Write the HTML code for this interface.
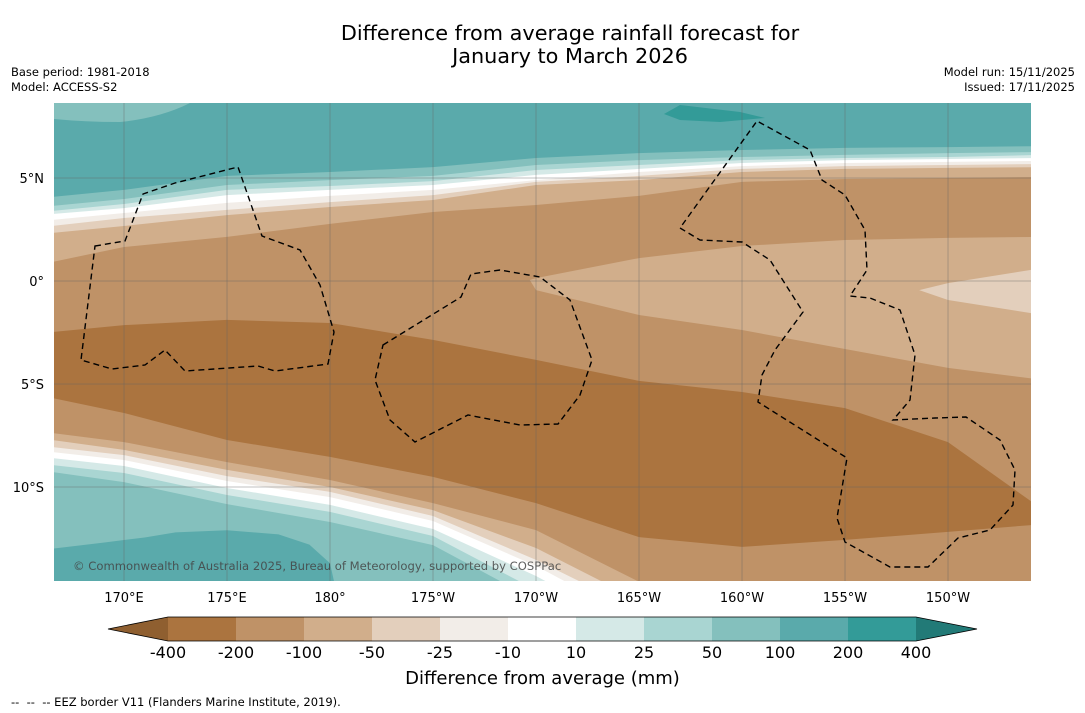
<!DOCTYPE html>
<html><head><meta charset="utf-8">
<style>
html,body{margin:0;padding:0;background:#fff;}
body{width:1085px;height:713px;position:relative;overflow:hidden;font-family:"DejaVu Sans","Liberation Sans",sans-serif;}
.t{position:absolute;white-space:nowrap;color:#000;}
</style></head>
<body>
<div class="t" style="left:0;width:1140px;top:22px;text-align:center;font-size:20.8px;line-height:23px;">Difference from average rainfall forecast for<br>January to March 2026</div>
<div class="t" style="left:11px;top:65px;font-size:11.5px;line-height:15px;">Base period: 1981-2018<br>Model: ACCESS-S2</div>
<div class="t" style="right:10px;top:65px;font-size:11.5px;line-height:15px;text-align:right;">Model run: 15/11/2025<br>Issued: 17/11/2025</div>
<svg id="chart" width="1085" height="713" style="position:absolute;left:0;top:0;font-family:'DejaVu Sans','Liberation Sans',sans-serif;" xmlns="http://www.w3.org/2000/svg"></svg>
<div class="t" style="left:0;width:1085px;top:668px;text-align:center;font-size:18px;">Difference from average (mm)</div>
<div class="t" style="left:11px;top:695px;font-size:11.5px;">--&nbsp; --&nbsp; -- EEZ border V11 (Flanders Marine Institute, 2019).</div>
<script>
const lons = [166.5,170,175,180,185,190,195,200,205,210,214.6];
const n100 = [4.08,4.42,5.10,5.29,5.53,5.97,6.21,6.36,6.46,6.50,6.55];
const n50  = [3.64,3.98,4.66,4.90,5.10,5.63,5.87,6.02,6.12,6.21,6.26];
const n25  = [3.40,3.74,4.42,4.61,4.85,5.39,5.63,5.87,5.97,6.02,6.12];
const n10  = [3.25,3.54,4.17,4.42,4.66,5.15,5.44,5.73,5.87,5.92,5.97];
const nm10 = [2.96,3.30,3.79,4.13,4.42,4.90,5.29,5.58,5.73,5.78,5.83];
const nm25 = [2.67,3.06,3.45,3.83,4.17,4.81,5.10,5.44,5.58,5.63,5.68];
const nm50 = [2.33,2.67,3.20,3.59,3.93,4.66,4.90,5.29,5.44,5.49,5.53];
const nm100= [0.92,1.65,2.14,2.77,3.35,3.69,4.13,4.81,4.95,5.00,5.05];
const nm200= [-2.48,-2.14,-1.89,-2.04,-2.86,-3.83,-4.85,-5.39,-6.17,-7.82,-11.1];
const sm200= [-5.68,-6.41,-7.72,-8.54,-9.51,-10.78,-12.43,-12.91,-12.57,-12.18,-11.8];
const sm100= [-7.38,-7.82,-8.79,-9.66,-10.78,-12.09,-14.6,-16,-16,-16,-16];
const sm50 = [-7.72,-8.20,-9.17,-10.0,-11.12,-12.96,-15.5,-17,-17,-17,-17];
const sm25 = [-8.06,-8.45,-9.47,-10.24,-11.41,-13.54,-16,-17,-17,-17,-17];
const sm10 = [-8.30,-8.69,-9.71,-10.49,-11.65,-13.83,-16.5,-18,-18,-18,-18];
const s10  = [-8.59,-8.98,-10.05,-10.87,-12.04,-14.32,-17,-18,-18,-18,-18];
const s25  = [-8.93,-9.32,-10.39,-11.21,-12.38,-15,-17,-18,-18,-18,-18];
const s50  = [-9.27,-9.76,-10.83,-11.70,-12.82,-15.5,-17,-18,-18,-18,-18];
const s100 = [-18,-18,-18,-18,-18,-18,-18,-18,-18,-18,-18];
const eLons = [189.7,190,195,200,205,210,214.6];
const eN50 = [0.05,0.14,1.11,1.70,1.99,2.09,2.14];
const eS50 = [0.05,-0.44,-1.65,-2.38,-3.30,-4.22,-4.80];
const iLons = [208.6,210,214.6];
const iN25 = [-0.44,-0.10,0.63];
const iS25 = [-0.44,-0.92,-1.65];
const swLons = [166.5,169,171,172.5,175,177.5,179,180,180.2];
const swLats = [-13.0,-12.7,-12.45,-12.2,-12.1,-12.3,-12.8,-13.7,-14.6];
const bandLevels = ["-400","-200","-100","-50","-25","-10","10","25","50","100","200","400"];
const bandColors = ["#ab743f","#bf9267","#d1ae8b","#e3cfbc","#f2ede8","#ffffff","#d5e9e7","#a9d5d2","#84c0bd","#5aaaab","#339b98"];
const lonTicks = [170,175,180,185,190,195,200,205,210];
const lonLabels = ["170°E","175°E","180°","175°W","170°W","165°W","160°W","155°W","150°W"];
const latTicks = [5,0,-5,-10];
const latLabels = ["5°N","0°","5°S","10°S"];

const NS="http://www.w3.org/2000/svg";
const svg=document.getElementById('chart');
const X0=54,X1=1031,Y0=103,Y1=581;
const xS=lon=>124+(lon-170)*20.6;
const yS=lat=>281-lat*20.6;
function mk(t,a,p){const e=document.createElementNS(NS,t);for(const k in a)e.setAttribute(k,a[k]);(p||svg).appendChild(e);return e;}
const defs=mk('defs',{});
const cp=mk('clipPath',{id:'mapclip'},defs);
mk('rect',{x:X0,y:Y0,width:X1-X0,height:Y1-Y0},cp);
const g=mk('g',{'clip-path':'url(#mapclip)'});


const bg=mk('rect',{x:X0,y:Y0,width:X1-X0,height:Y1-Y0,fill:bandColors[9]},g);


function band(ls,north,south,color,name){
  let pts=[];
  for(let i=0;i<ls.length;i++)pts.push(xS(ls[i]).toFixed(1)+','+yS(north[i]).toFixed(1));
  for(let i=ls.length-1;i>=0;i--)pts.push(xS(ls[i]).toFixed(1)+','+yS(south[i]).toFixed(1));
  const p=mk('polygon',{points:pts.join(' '),fill:color},g);
  
  
}
band(lons,n100,s100,bandColors[8],'band-50-100');
{let pts=swLons.map((l,i)=>xS(l)+','+yS(swLats[i]));pts.push(xS(swLons[swLons.length-1])+','+yS(-16));pts.push(xS(swLons[0])+','+yS(-16));
const p=mk('polygon',{points:pts.join(' '),fill:bandColors[9]},g);

}
band(lons,n50,s50,bandColors[7],'band-25-50');
band(lons,n25,s25,bandColors[6],'band-10-25');
band(lons,n10,s10,bandColors[5],'band-neutral');
band(lons,nm10,sm10,bandColors[4],'band-minus25-minus10');
band(lons,nm25,sm25,bandColors[3],'band-minus50-minus25');
band(lons,nm50,sm50,bandColors[2],'band-minus100-minus50');
band(lons,nm100,sm100,bandColors[1],'band-minus200-minus100');
band(lons,nm200,sm200,bandColors[0],'band-minus400-minus200');
band(eLons,eN50,eS50,bandColors[2],'east-equatorial-light-band');
band(iLons,iN25,iS25,bandColors[3],'east-equatorial-lightest-band');
{const p=mk('path',{d:'M664,114 L680,105 L740,112 L765,118 L720,122 L680,120 Z',fill:bandColors[10]},g);


const q=mk('path',{d:'M54,103 L190,103 Q160,118 120,122 Q85,122 54,119 Z',fill:bandColors[8]},g);

}
lonTicks.forEach((l,i)=>{
  const ln=mk('line',{x1:xS(l),x2:xS(l),y1:Y0,y2:Y1,stroke:'#666','stroke-width':0.4},g);
  
  
  const t=mk('text',{x:xS(l),y:602,'text-anchor':'middle','font-size':13,fill:'#000'});
  t.textContent=lonLabels[i];
  
  
});
latTicks.forEach((l,i)=>{
  const ln=mk('line',{x1:X0,x2:X1,y1:yS(l),y2:yS(l),stroke:'#666','stroke-width':0.4},g);
  
  
  const t=mk('text',{x:44,y:yS(l)+5,'text-anchor':'end','font-size':13,fill:'#000'});
  t.textContent=latLabels[i];
  
  
});
const eez=['M95,246 L125,241 L143,194 L175,183 L238,167 L262,236 L300,250 L320,285 L334,332 L328,364 L275,371 L258,366 L185,371 L165,350 L145,365 L112,369 L81,360 Z',
'M383,345 L461,297 L471,274 L500,270 L540,277 L570,300 L592,360 L580,395 L558,424 L520,425 L468,415 L415,442 L390,420 L375,380 Z',
'M680,228 L700,240 L742,242 L770,260 L803,312 L775,350 L762,375 L758,402 L847,458 L837,518 L845,542 L890,567 L928,567 L958,538 L990,530 L1013,505 L1015,470 L1000,440 L966,417 L935,418 L893,420 L910,400 L915,355 L900,310 L870,298 L850,296 L867,270 L865,230 L845,195 L822,180 L810,150 L757,121 Z'];
eez.forEach(d=>{const p=mk('path',{d:d,fill:'none',stroke:'#000','stroke-width':1.4,'stroke-dasharray':'6,4'},g);

});
{const t=mk('text',{x:73,y:570,'font-size':11.6,fill:'#444','fill-opacity':0.85});
t.textContent='© Commonwealth of Australia 2025, Bureau of Meteorology, supported by COSPPac';

}
const cbL=168,cbW=68,cbT=617,cbH=24;
bandColors.forEach((c,i)=>{
  const r=mk('rect',{x:cbL+i*cbW,y:cbT,width:cbW,height:cbH,fill:c});
  
  
});
{const a=mk('polygon',{points:`108,${cbT+cbH/2} ${cbL},${cbT} ${cbL},${cbT+cbH}`,fill:'#8f5f30'});


const b=mk('polygon',{points:`${cbL+11*cbW},${cbT} 977,${cbT+cbH/2} ${cbL+11*cbW},${cbT+cbH}`,fill:'#227a77'});


const o=mk('path',{d:`M108,${cbT+cbH/2} L${cbL},${cbT} L${cbL+11*cbW},${cbT} L977,${cbT+cbH/2} L${cbL+11*cbW},${cbT+cbH} L${cbL},${cbT+cbH} Z`,fill:'none',stroke:'#000','stroke-width':0.8});

}
bandLevels.forEach((l,i)=>{
  const t=mk('text',{x:cbL+i*cbW,y:658,'text-anchor':'middle','font-size':16,fill:'#000'});
  t.textContent=l;
  
  
});
</script>
</body></html>
